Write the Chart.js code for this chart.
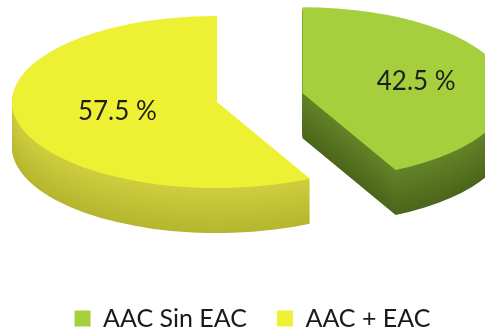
<!DOCTYPE html>
<html>
<head>
<meta charset="utf-8">
<script src="https://cdn.jsdelivr.net/npm/chart.js@4.4.1/dist/chart.umd.min.js"></script>
<style>
  html, body { margin: 0; padding: 0; background: #fff; }
</style>
</head>
<body>
<canvas id="pie" width="485" height="335"></canvas>
<script>
const categories = ["AAC Sin EAC", "AAC + EAC"];
const shares = [42.5, 57.5];
const shareLabels = ["42.5 %", "57.5 %"];

// styles
const topColors = ["#a6cf3e", "#eef033"];
const wallTop = [[100, 132, 40], [206, 206, 62]];
const wallBottom = [[76, 102, 28], [182, 182, 48]];
const explode = [88, 0];
const labelPos = [0.57, 0.5];

const PIE_CX = 217, PIE_CY = 102, TILT = 0.42, DEPTH = 45;

function mix(a, b, t) {
  return "rgb(" + a.map((v, k) => Math.round(v + (b[k] - v) * t)).join(",") + ")";
}

// draws the pie flattened, with its sides, and exploded slices
const pie3d = {
  id: "pie3d",
  beforeDatasetsDraw(chart) {
    const ctx = chart.ctx;
    const arcs = chart.getDatasetMeta(0).data;

    const paint = (arc, i, dy, color) => {
      const mid = (arc.startAngle + arc.endAngle) / 2;
      ctx.save();
      ctx.translate(PIE_CX, PIE_CY + dy);
      ctx.scale(1, TILT);
      ctx.translate(Math.cos(mid) * explode[i] - arc.x, Math.sin(mid) * explode[i] - arc.y);
      const view = Object.create(arc);
      view.options = Object.assign({}, arc.options, { backgroundColor: color, borderWidth: 0, offset: 0 });
      arc.draw.call(view, ctx);
      ctx.restore();
    };

    for (let d = DEPTH; d > 0; d--) {
      arcs.forEach((arc, i) => paint(arc, i, d, mix(wallTop[i], wallBottom[i], d / DEPTH)));
    }
    arcs.forEach((arc, i) => paint(arc, i, 0, arc.options.backgroundColor));
    return false;
  },
  afterDraw(chart) {
    const ctx = chart.ctx;
    const arcs = chart.getDatasetMeta(0).data;
    ctx.save();
    ctx.font = "26px Lato";
    ctx.fillStyle = "#1e1e1e";
    ctx.textAlign = "center";
    ctx.textBaseline = "middle";
    arcs.forEach((arc, i) => {
      const mid = (arc.startAngle + arc.endAngle) / 2;
      const r = explode[i] + arc.outerRadius * labelPos[i];
      const x = PIE_CX + Math.cos(mid) * r;
      const y = PIE_CY + Math.sin(mid) * r * TILT;
      ctx.fillText(shareLabels[i], x, y);
    });
    ctx.restore();
  }
};

new Chart(document.getElementById("pie"), {
  type: "pie",
  data: {
    labels: categories,
    datasets: [{
      data: shares,
      backgroundColor: topColors,
      borderWidth: 0,
      radius: 205
    }]
  },
  options: {
    responsive: false,
    animation: false,
    events: [],
    layout: { padding: { left: 20, bottom: -6 } },
    plugins: {
      tooltip: { enabled: false },
      legend: {
        position: "bottom",
        labels: {
          color: "#1a1a1a",
          font: { family: "Lato", size: 25 },
          boxWidth: 16,
          boxHeight: 16,
          padding: 30
        }
      }
    }
  },
  plugins: [pie3d]
});
</script>
</body>
</html>
